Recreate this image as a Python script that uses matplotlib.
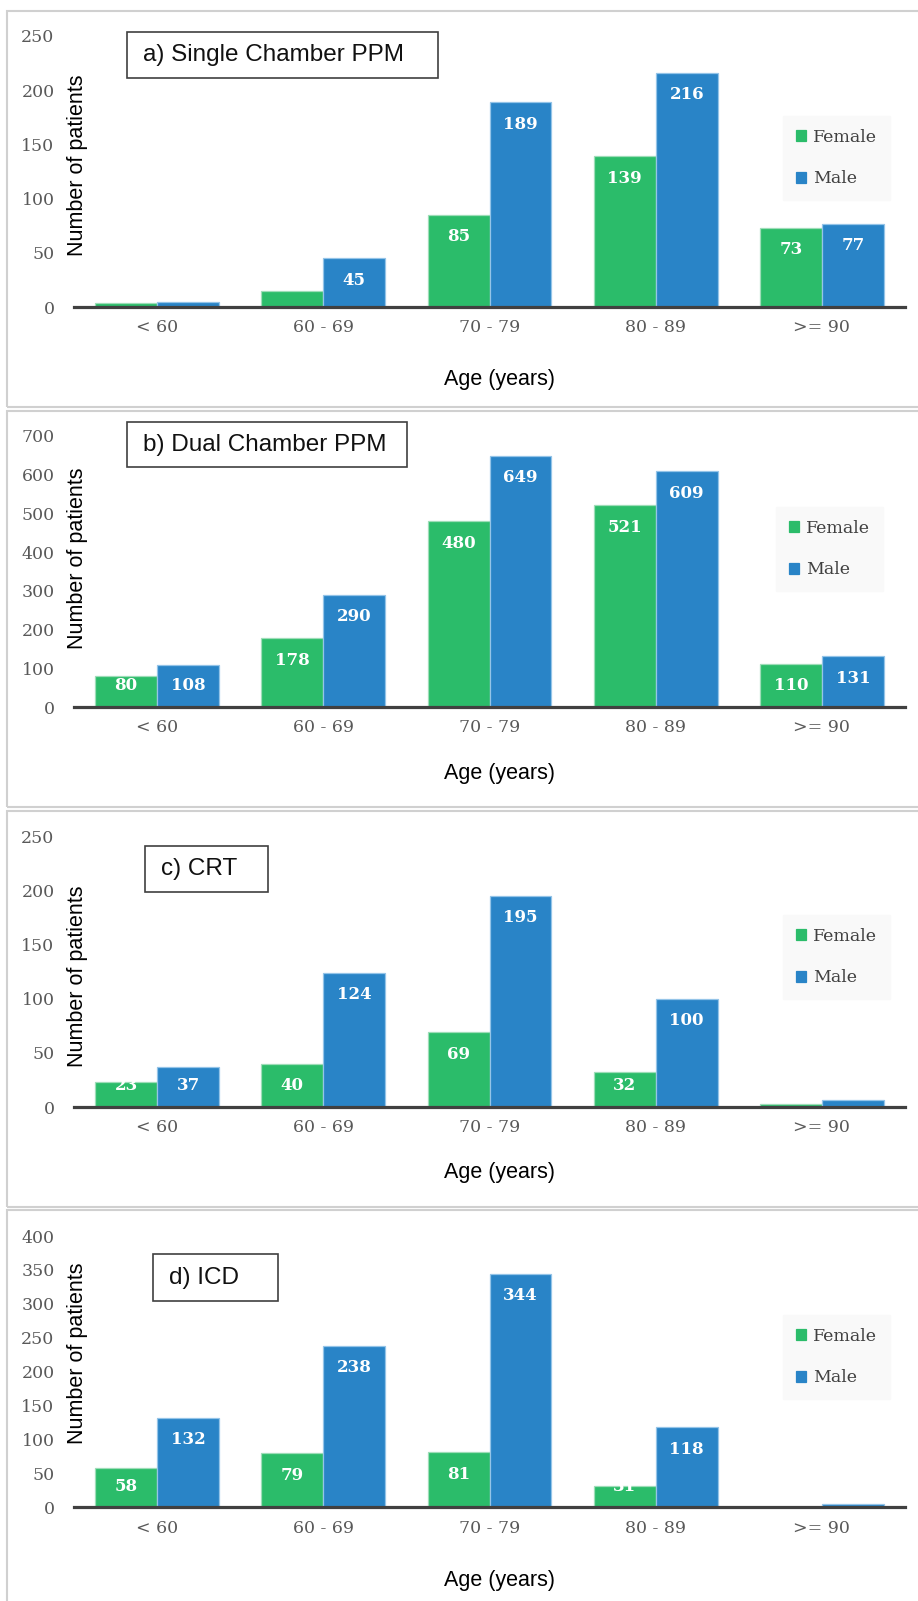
import matplotlib
matplotlib.use("Agg")
import matplotlib.pyplot as plt
from matplotlib.patches import Rectangle

W, H = 918, 1601

# Palette
GREEN = "#2BBC6A"
BLUE = "#2984C7"
GREEN_EDGE = "#9EDDB8"
BLUE_EDGE = "#94C4E8"
AXIS = "#404040"
TICK = "#595959"
BORDER = "#D0D0D0"

SERIF = "DejaVu Serif"
SANS = "Liberation Sans"

# Data
AGE_GROUPS = ["< 60", "60 - 69", "70 - 79", "80 - 89", ">= 90"]
SERIES = ["Female", "Male"]

single_female = [4, 15, 85, 139, 73]
single_male = [5, 45, 189, 216, 77]

dual_female = [80, 178, 480, 521, 110]
dual_male = [108, 290, 649, 609, 131]

crt_female = [23, 40, 69, 32, 3]
crt_male = [37, 124, 195, 100, 6]

icd_female = [58, 79, 81, 31, 0]
icd_male = [132, 238, 344, 118, 5]

titles = ["a) Single Chamber PPM", "b) Dual Chamber PPM", "c) CRT", "d) ICD"]
y_max = [250, 700, 250, 400]
y_step = [50, 100, 50, 50]

# Layout in reference pixels (from top-left)
panel_top = [11, 411, 811, 1210]
panel_bot = [407, 807, 1207, 1610]
axis_y = [307, 707, 1107, 1507]
AX_L, AX_R, AX_H = 74, 905, 271
title_box = [(127, 438, 32, 78), (127, 407, 422, 467),
             (145, 268, 846, 892), (153, 278, 1254, 1301)]
legend_xy = [(783, 116), (776, 507), (783, 915), (783, 1315)]
ylabel_y = [165, 558, 976, 1353]
xlabel_y = [380, 773, 1172, 1580]


def fx(px):
    return px / W


def fy(py):
    return 1 - py / H


fig = plt.figure(figsize=(W / 100, H / 100), dpi=100, facecolor="white")

panels = [(single_female, single_male), (dual_female, dual_male),
          (crt_female, crt_male), (icd_female, icd_male)]

w = 0.373
for k, (fem, mal) in enumerate(panels):
    # panel border
    fig.patches.append(Rectangle((fx(7), fy(panel_bot[k])), fx(930 - 7),
                                 (panel_bot[k] - panel_top[k]) / H,
                                 transform=fig.transFigure, fill=False,
                                 edgecolor=BORDER, lw=1.5))

    ax = fig.add_axes([fx(AX_L), fy(axis_y[k]), (AX_R - AX_L) / W, AX_H / H])
    ax.set_facecolor("none")
    x = list(range(len(AGE_GROUPS)))
    b1 = ax.bar([i - w / 2 for i in x], fem, w, color=GREEN, edgecolor=GREEN_EDGE,
                lw=0.9, label=SERIES[0])
    b2 = ax.bar([i + w / 2 for i in x], mal, w, color=BLUE, edgecolor=BLUE_EDGE,
                lw=0.9, label=SERIES[1])
    ax.set_xlim(-0.5, len(AGE_GROUPS) - 0.5)
    ax.set_ylim(0, y_max[k])
    ax.set_yticks(range(0, y_max[k] + 1, y_step[k]))
    ax.set_xticks(x)
    ax.set_xticklabels(AGE_GROUPS)
    for s in ["top", "right", "left"]:
        ax.spines[s].set_visible(False)
    ax.spines["bottom"].set_color(AXIS)
    ax.spines["bottom"].set_linewidth(2.3)
    ax.tick_params(axis="both", length=0, labelsize=12.5, labelcolor=TICK)
    ax.tick_params(axis="y", pad=14)
    ax.tick_params(axis="x", pad=9)
    for lab in ax.get_xticklabels() + ax.get_yticklabels():
        lab.set_fontfamily(SERIF)

    # value labels: inside end, pushed up for short bars
    pxu = y_max[k] / AX_H
    for bars, vals in ((b1, fem), (b2, mal)):
        for b, v in zip(bars, vals):
            yl = max(v - 22 * pxu, 21 * pxu)
            ax.text(b.get_x() + b.get_width() / 2, yl, str(v), ha="center",
                    va="center", color="white", fontsize=12, fontweight="bold",
                    family=SERIF, zorder=2)

    leg = ax.legend(loc="upper left", bbox_to_anchor=(fx(legend_xy[k][0]), fy(legend_xy[k][1])),
                    bbox_transform=fig.transFigure, borderaxespad=0,
                    prop={"family": SERIF, "size": 12.5}, handlelength=0.6,
                    handleheight=0.6, handletextpad=0.4, labelspacing=1.4,
                    borderpad=0.75, fancybox=False, framealpha=1)
    leg.get_frame().set_facecolor("#F9F9F9")
    leg.get_frame().set_edgecolor("#F9F9F9")
    for t in leg.get_texts():
        t.set_color(AXIS)
    for h in leg.legend_handles:
        h.set_edgecolor(h.get_facecolor())

    # title box
    x0, x1, y0, y1 = title_box[k]
    fig.patches.append(Rectangle((fx(x0), fy(y1)), (x1 - x0) / W, (y1 - y0) / H,
                                 transform=fig.transFigure, facecolor="white",
                                 edgecolor=AXIS, lw=1.2))
    fig.text(fx(x0 + 16), fy((y0 + y1) / 2), titles[k], ha="left", va="center",
             fontsize=17.5, family=SANS, color="#111111")

    fig.text(fx(78), fy(ylabel_y[k]), "Number of patients", rotation=90,
             ha="center", va="center", fontsize=15.5, family=SANS)
    fig.text(fx(500), fy(xlabel_y[k]), "Age (years)", ha="center", va="center",
             fontsize=15.5, family=SANS)

fig.savefig("out.png", dpi=100, facecolor="white")
